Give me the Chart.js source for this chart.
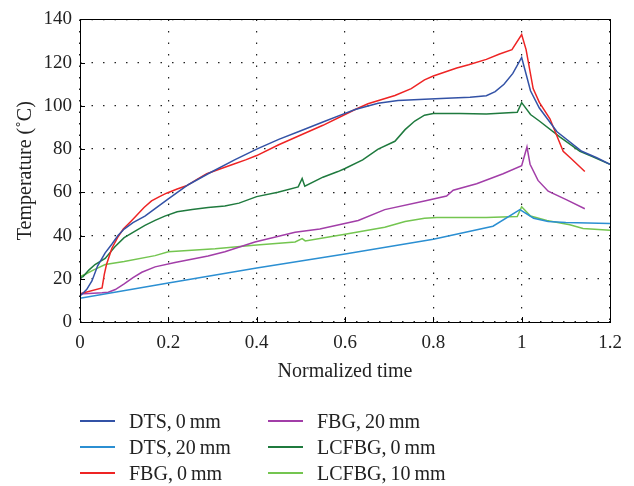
<!DOCTYPE html>
<html>
<head>
<meta charset="utf-8">
<script src="https://cdn.jsdelivr.net/npm/chart.js@4.4.1/dist/chart.umd.min.js"></script>
<style>
  html, body { margin: 0; padding: 0; background: #fff; }
  #wrap { position: relative; width: 634px; height: 486px; }
  #chart { position: absolute; left: 0; top: 0; }
  .leg { position: absolute; font-family: "Liberation Serif", serif; font-size: 20px; color: #222; line-height: 20px; white-space: nowrap; }
  .leg span.sw { position: absolute; left: 0; top: 9px; width: 35px; height: 2px; }
  .leg span.tx { position: absolute; left: 49px; top: 0; }
</style>
</head>
<body>
<div id="wrap">
  <canvas id="chart" width="634" height="486"></canvas>
  <div id="legend"></div>
</div>
<script>
// series data (x = normalized time, y = temperature in C)
var dtsZeroX = [0, 0.015, 0.027, 0.04, 0.057, 0.072, 0.086, 0.1, 0.12, 0.147, 0.17, 0.2, 0.245, 0.29, 0.35, 0.4, 0.45, 0.5, 0.55, 0.6, 0.623, 0.675, 0.72, 0.78, 0.83, 0.883, 0.92, 0.94, 0.96, 0.98, 1.0, 1.02, 1.04, 1.08, 1.136, 1.17, 1.2];
var dtsZeroY = [12, 15, 19, 26, 32, 36, 40, 43, 46, 49, 52.5, 57, 63.5, 68.6, 75, 80, 84.5, 88.5, 92.5, 96.5, 98.3, 101.2, 102.5, 103, 103.5, 104, 104.7, 106.6, 110, 115, 122.4, 107, 99, 88, 79, 76, 73];

var dtsTwentyX = [0, 0.2, 0.4, 0.6, 0.8, 0.935, 0.996, 1.027, 1.06, 1.1, 1.2];
var dtsTwentyY = [11, 18, 25, 31.5, 38.3, 44.3, 52, 48, 46.5, 46, 45.6];

var fbgZeroX = [0, 0.05, 0.055, 0.06, 0.072, 0.085, 0.098, 0.115, 0.129, 0.145, 0.162, 0.18, 0.196, 0.22, 0.241, 0.265, 0.287, 0.32, 0.347, 0.375, 0.4, 0.45, 0.5, 0.55, 0.6, 0.623, 0.652, 0.713, 0.75, 0.78, 0.8, 0.853, 0.88, 0.92, 0.95, 0.978, 1.0, 1.01, 1.026, 1.04, 1.064, 1.094, 1.11, 1.143];
var fbgZeroY = [13, 15.8, 22, 26.6, 34, 39, 43, 46.5, 49.5, 53, 56, 58, 59.6, 61.5, 63, 66, 68.6, 71, 73, 75, 77, 82, 86.5, 91, 96, 98.3, 101, 104.8, 108, 112, 113.8, 117.5, 119, 121.5, 124, 126, 133, 126, 108, 101.6, 94, 79, 76, 69.6];

var fbgTwentyX = [0, 0.05, 0.064, 0.08, 0.1, 0.12, 0.14, 0.17, 0.215, 0.29, 0.328, 0.396, 0.487, 0.543, 0.63, 0.69, 0.78, 0.83, 0.845, 0.898, 0.958, 1.0, 1.012, 1.019, 1.037, 1.06, 1.102, 1.143];
var fbgTwentyY = [13, 13.5, 13.8, 15, 17.6, 20.5, 23, 25.5, 27.5, 30.5, 32.5, 37, 41.5, 43, 47, 52, 56, 58.3, 61, 64, 68.6, 72.3, 81, 73, 65.5, 60.5, 56.5, 52.4];

var lcfbgZeroX = [0, 0.007, 0.02, 0.034, 0.057, 0.079, 0.1, 0.12, 0.147, 0.17, 0.192, 0.22, 0.254, 0.29, 0.328, 0.36, 0.4, 0.448, 0.494, 0.503, 0.509, 0.55, 0.584, 0.6, 0.64, 0.675, 0.713, 0.736, 0.758, 0.78, 0.8, 0.86, 0.92, 0.99, 1.0, 1.02, 1.04, 1.087, 1.132, 1.16, 1.2];
var lcfbgZeroY = [20.5, 21, 24, 26.6, 29.4, 34.8, 39, 41.5, 44.7, 47, 49, 51, 52, 53, 53.7, 55, 58, 60, 62.5, 66.4, 62.8, 67, 69.6, 71, 75, 80, 83.6, 89, 93, 95.7, 96.5, 96.5, 96.2, 97, 101.5, 96, 93, 85.5, 79, 76.5, 73];

var lcfbgTenX = [0, 0.011, 0.03, 0.057, 0.1, 0.17, 0.2, 0.306, 0.4, 0.487, 0.503, 0.51, 0.6, 0.69, 0.736, 0.78, 0.808, 0.92, 0.99, 1.0, 1.02, 1.057, 1.109, 1.139, 1.2];
var lcfbgTenY = [21, 22, 24, 26.6, 28, 30.7, 32.5, 33.9, 35.6, 37, 38.6, 37.5, 40.6, 43.8, 46.5, 48, 48.3, 48.3, 48.8, 53.3, 49, 47, 45, 43.3, 42.4];

var seriesNames = ["DTS,\u20090\u2009mm", "DTS,\u200920\u2009mm", "FBG,\u20090\u2009mm", "FBG,\u200920\u2009mm", "LCFBG,\u20090\u2009mm", "LCFBG,\u200910\u2009mm"];
var seriesColors = ["#3352a6", "#2b8fd2", "#ee2424", "#a23ea8", "#1f7a3e", "#74c550"];
var seriesX = [dtsZeroX, dtsTwentyX, fbgZeroX, fbgTwentyX, lcfbgZeroX, lcfbgTenX];
var seriesY = [dtsZeroY, dtsTwentyY, fbgZeroY, fbgTwentyY, lcfbgZeroY, lcfbgTenY];

var xTicks = [0, 0.2, 0.4, 0.6, 0.8, 1, 1.2];
var yTicks = [0, 20, 40, 60, 80, 100, 120, 140];

function toPoints(xs, ys) {
    var pts = [];
    for (var i = 0; i < xs.length; i++) {
        pts.push({ x: xs[i], y: ys[i] });
    }
    return pts;
}

var datasets = [];
for (var i = 0; i < seriesNames.length; i++) {
    datasets.push({
        label: seriesNames[i],
        data: toPoints(seriesX[i], seriesY[i]),
        borderColor: seriesColors[i],
        backgroundColor: seriesColors[i],
        borderWidth: 1.5,
        pointRadius: 0,
        tension: 0,
        fill: false
    });
}

var serif = "'Liberation Serif', 'Times New Roman', serif";

// frame round the plot area plus small inward tick marks
var framePlugin = {
    id: 'frame',
    afterDraw: function (chart) {
        var ctx = chart.ctx;
        var a = chart.chartArea;
        var xs = chart.scales.x, ys = chart.scales.y;
        ctx.save();
        ctx.strokeStyle = '#000';
        ctx.lineWidth = 1;
        ctx.strokeRect(Math.round(a.left) + 0.5, Math.round(a.top) + 0.5, Math.round(a.right - a.left), Math.round(a.bottom - a.top));
        ctx.beginPath();
        for (var i = 0; i < xTicks.length; i++) {
            var px = Math.round(xs.getPixelForValue(xTicks[i])) + 0.5;
            ctx.moveTo(px, a.bottom);
            ctx.lineTo(px, a.bottom - 5);
        }
        for (var j = 0; j < yTicks.length; j++) {
            var py = Math.round(ys.getPixelForValue(yTicks[j])) + 0.5;
            ctx.moveTo(a.left, py);
            ctx.lineTo(a.left + 5, py);
        }
        ctx.stroke();
        ctx.restore();
    }
};

var ctx = document.getElementById("chart");
var myChart = new Chart(ctx, {
    type: 'line',
    data: { datasets: datasets },
    options: {
        responsive: false,
        animation: false,
        events: [],
        layout: { padding: { top: 12, right: 24, left: 0, bottom: 98 } },
        plugins: {
            legend: { display: false },
            tooltip: { enabled: false }
        },
        scales: {
            x: {
                type: 'linear',
                min: 0,
                max: 1.2,
                afterBuildTicks: function (scale) {
                    scale.ticks = xTicks.map(function (v) { return { value: v }; });
                },
                afterFit: function (scale) { scale.height = 66; },
                ticks: {
                    padding: 10,
                    color: '#222',
                    font: { family: serif, size: 19 },
                    maxRotation: 0,
                    callback: function (v) { return String(v); }
                },
                grid: { color: '#222', lineWidth: 1.2, drawTicks: false },
                border: { display: false, dash: [1.5, 10] },
                title: {
                    display: true,
                    text: 'Normalized time',
                    color: '#222',
                    font: { family: serif, size: 20 },
                    padding: { top: 4, bottom: 4 }
                }
            },
            y: {
                min: 0,
                max: 140,
                afterBuildTicks: function (scale) {
                    scale.ticks = yTicks.map(function (v) { return { value: v }; });
                },
                afterFit: function (scale) { scale.width = 80; },
                ticks: {
                    padding: 8,
                    color: '#222',
                    font: { family: serif, size: 19 }
                },
                grid: { color: '#222', lineWidth: 1.2, drawTicks: false },
                border: { display: false, dash: [1.5, 10] },
                title: {
                    display: true,
                    text: 'Temperature (\u02daC)',
                    color: '#222',
                    font: { family: serif, size: 20 },
                    padding: { top: 14, bottom: 4 }
                }
            }
        }
    },
    plugins: [framePlugin]
});

// legend: two columns of three, below the plot
var legendLeft = [80, 268];
var legendTop = [411, 437, 463];
var legendBox = document.getElementById('legend');
for (var k = 0; k < seriesNames.length; k++) {
    var col = Math.floor(k / 3), row = k % 3;
    var item = document.createElement('div');
    item.className = 'leg';
    item.style.left = legendLeft[col] + 'px';
    item.style.top = legendTop[row] + 'px';
    item.innerHTML = '<span class="sw" style="background:' + seriesColors[k] + '"></span><span class="tx"></span>';
    item.querySelector('.tx').textContent = seriesNames[k];
    legendBox.appendChild(item);
}
</script>
</body>
</html>
